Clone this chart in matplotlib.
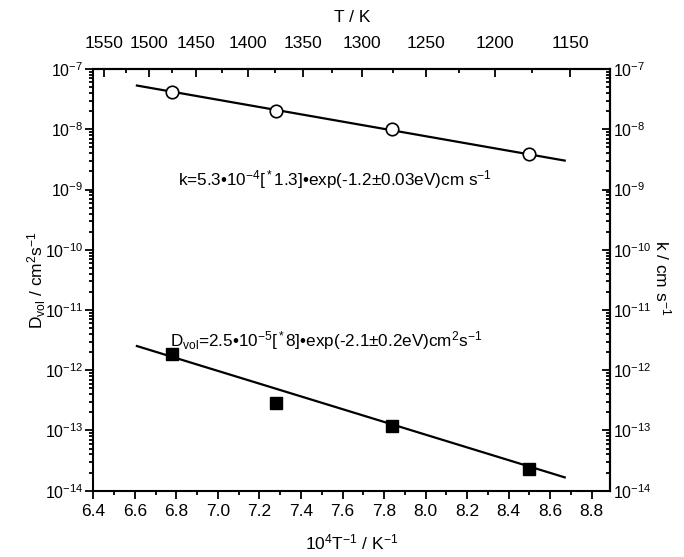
import numpy as np
import matplotlib
matplotlib.use('Agg')
import matplotlib.pyplot as plt
from matplotlib.ticker import FixedLocator, FixedFormatter, MultipleLocator, LogLocator, LogFormatterMathtext, NullFormatter

plt.rcParams['font.family'] = ['Liberation Sans', 'DejaVu Sans']
plt.rcParams['mathtext.fontset'] = 'custom'
plt.rcParams['mathtext.rm'] = 'Liberation Sans'
plt.rcParams['mathtext.it'] = 'Liberation Sans:italic'
plt.rcParams['mathtext.default'] = 'regular'

# measured points, x = 10^4/T
inv_T = [6.78, 7.28, 7.84, 8.50]
k_vals = [4.1e-8, 2.0e-8, 1.0e-8, 3.9e-9]
D_vals = [1.85e-12, 2.9e-13, 1.17e-13, 2.3e-14]

# Arrhenius fits: prefactor, activation energy (eV)
k_pre, k_Ea = 5.3e-4, 1.2
D_pre, D_Ea = 2.5e-5, 2.1
fit_range = [6.61, 8.67]

T_ticks = [1550, 1500, 1450, 1400, 1350, 1300, 1250, 1200, 1150]
T_minor = [1525, 1475, 1425, 1375, 1325, 1275, 1225, 1175]

kB = 8.617e-5
xf = np.linspace(fit_range[0], fit_range[1], 50)
k_fit = k_pre * np.exp(-k_Ea / kB * xf / 1e4)
D_fit = D_pre * np.exp(-D_Ea / kB * xf / 1e4)

fig = plt.figure(figsize=(6.84, 5.57), dpi=100)
ax = fig.add_axes([0.1364, 0.119, 0.7560, 0.757])

ax.plot(xf, k_fit, color='black', lw=1.6)
ax.plot(xf, D_fit, color='black', lw=1.6)
ax.plot(inv_T, k_vals, 'o', mfc='white', mec='black', ms=9, mew=1.2)
ax.plot(inv_T, D_vals, 's', color='black', ms=9)

ax.set_yscale('log')
ax.set_xlim(6.4, 8.89)
ax.set_ylim(1e-14, 1e-7)

ax.xaxis.set_major_locator(MultipleLocator(0.2))
ax.xaxis.set_minor_locator(MultipleLocator(0.1))
ax.xaxis.set_major_formatter(matplotlib.ticker.FormatStrFormatter('%.1f'))
ax.yaxis.set_major_locator(LogLocator(base=10, numticks=20))
ax.yaxis.set_minor_locator(LogLocator(base=10, subs=np.arange(2, 10), numticks=20))
ax.yaxis.set_major_formatter(LogFormatterMathtext())
ax.yaxis.set_minor_formatter(NullFormatter())
ax.tick_params(which='both', direction='out', width=1.3, labelsize=12.5, top=False, right=False)
ax.tick_params(axis='y', pad=1, labelsize=11.5)
ax.tick_params(which='major', length=6)
ax.tick_params(which='minor', length=3)
for s in ax.spines.values():
    s.set_linewidth(1.5)

# right-hand k axis, same log scale, ticks pointing in
ax_r = ax.secondary_yaxis('right')
ax_r.yaxis.set_major_locator(LogLocator(base=10, numticks=20))
ax_r.yaxis.set_minor_locator(LogLocator(base=10, subs=np.arange(2, 10), numticks=20))
ax_r.yaxis.set_major_formatter(LogFormatterMathtext())
ax_r.yaxis.set_minor_formatter(NullFormatter())
ax_r.tick_params(which='both', direction='in', width=1.3, labelsize=11.5, pad=2)
ax_r.tick_params(which='major', length=6)
ax_r.tick_params(which='minor', length=3)
ax_r.spines['right'].set_linewidth(1.5)
fig.text(663 / 684, 1 - 278 / 557, 'k / cm s$^{-1}$', fontsize=12.5, rotation=-90,
         ha='center', va='center')

# top temperature axis
ax_t = ax.secondary_xaxis('top', functions=(lambda x: 1e4 / x, lambda T: 1e4 / T))
ax_t.xaxis.set_major_locator(FixedLocator(T_ticks))
ax_t.xaxis.set_major_formatter(FixedFormatter([str(t) for t in T_ticks]))
ax_t.xaxis.set_minor_locator(FixedLocator(T_minor))
ax_t.tick_params(which='both', direction='in', width=1.3, labelsize=12.5, pad=13)
ax_t.tick_params(which='major', length=6)
ax_t.tick_params(which='minor', length=3)
ax_t.spines['top'].set_linewidth(1.5)
ax_t.set_xlabel('T / K', fontsize=12.5, labelpad=10)

ax.set_xlabel('10$^4$T$^{-1}$ / K$^{-1}$', fontsize=12.5, labelpad=10)
ax.set_ylabel('D$_{vol}$ / cm$^2$s$^{-1}$', fontsize=12.5, va='center')
ax.yaxis.set_label_coords(-0.11, 0.5)

ax.text(6.81, 1.18e-9, 'k=5.3•10$^{-4}$[$^*$1.3]•exp(-1.2±0.03eV)cm s$^{-1}$',
        fontsize=12.3, va='baseline', ha='left')
ax.text(6.77, 2.5e-12, 'D$_{vol}$=2.5•10$^{-5}$[$^*$8]•exp(-2.1±0.2eV)cm$^2$s$^{-1}$',
        fontsize=12.3, va='baseline', ha='left')

fig.savefig('out.png', dpi=100)
